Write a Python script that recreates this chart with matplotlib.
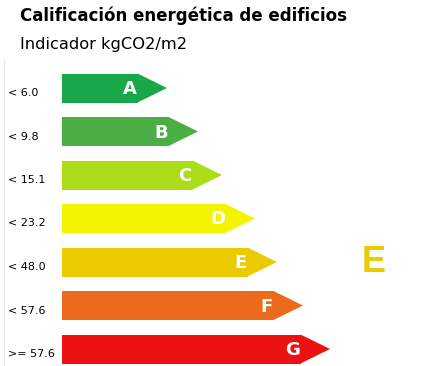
import matplotlib
matplotlib.use("Agg")
import matplotlib.pyplot as plt
from matplotlib.patches import Polygon

# Data
grades = ["A", "B", "C", "D", "E", "F", "G"]
thresholds = ["< 6.0", "< 9.8", "< 15.1", "< 23.2", "< 48.0", "< 57.6", ">= 57.6"]
bar_lengths = [105, 136, 160, 193, 215, 241, 268]  # arrow length (px units)
colors = ["#18a84a", "#4aae44", "#aadc18", "#f4f400", "#ecca00", "#ec6a1c", "#ec1212"]
current_grade = "E"
current_color = "#ecca00"

W, H = 429, 366
fig = plt.figure(figsize=(W / 100, H / 100), dpi=100)
ax = fig.add_axes([0, 0, 1, 1])
ax.set_xlim(0, W)
ax.set_ylim(H, 0)
ax.axis("off")

x0 = 62
y_first = 88
step = 43.5
bh = 29
tip = 29

for i, (g, t, L, c) in enumerate(zip(grades, thresholds, bar_lengths, colors)):
    yc = y_first + i * step
    rect_end = x0 + L - tip
    ax.barh(yc, rect_end - x0, height=bh, left=x0, color=c, edgecolor="none")
    tri = Polygon([[rect_end - 0.5, yc - bh / 2], [x0 + L, yc], [rect_end - 0.5, yc + bh / 2]],
                  closed=True, facecolor=c, edgecolor="none")
    ax.add_patch(tri)
    ax.text(rect_end - 8, yc + 1, g, color="white", fontsize=13, fontweight="bold",
            ha="center", va="center")
    ax.text(8, yc + 5, t, color="black", fontsize=8, ha="left", va="center")

# current rating
ci = grades.index(current_grade)
ax.text(374, y_first + ci * step + 1, current_grade, color=current_color, fontsize=26,
        fontweight="bold", ha="center", va="center", family="Liberation Sans")

ax.plot([4, 4], [60, H], color="#e6e6e6", lw=0.8)

ax.text(20, 16, "Calificación energética de edificios", fontsize=12, fontweight="bold",
        ha="left", va="center")
ax.text(20, 44, "Indicador kgCO2/m2", fontsize=11.7, ha="left", va="center")

fig.savefig("out.png", dpi=100)
